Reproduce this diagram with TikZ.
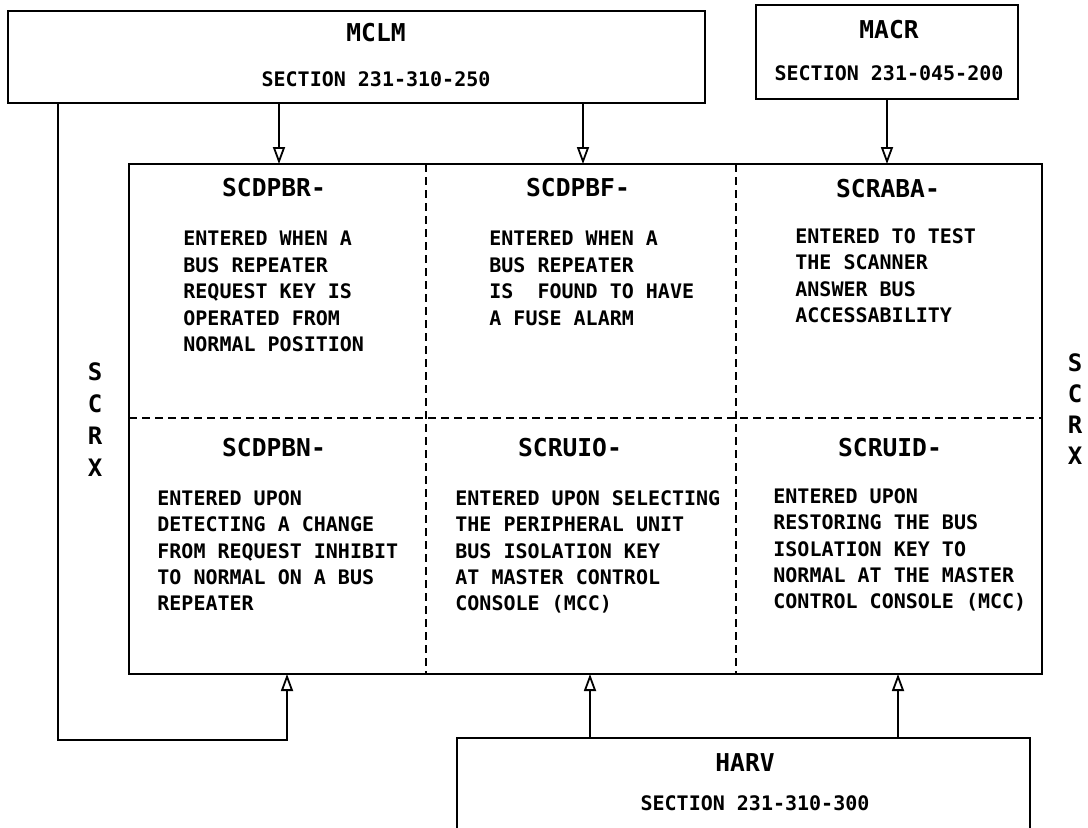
\documentclass[tikz,border=0pt]{standalone}
\usepackage{fontspec}
\setmainfont{DejaVu Sans Mono}
\usetikzlibrary{positioning,arrows.meta}

\begin{document}
\begin{tikzpicture}
[
x=0.5pt, y=-0.5pt,
box-a/.style={draw, line width=1.3pt, inner sep=0pt, outer sep=0pt},
div-a/.style={line width=0.9pt, dash pattern=on 4pt off 2.5pt},
arrow-a/.style={line width=0.8pt, -{Triangle[open, length=8.5pt, width=6pt, line width=0.9pt]}},
text-a/.style={inner sep=0pt, font=\fontsize{12.3}{14}\selectfont\bfseries},
text-b/.style={inner sep=0pt, font=\fontsize{10}{12}\selectfont\bfseries},
text-c/.style={inner sep=0pt, anchor=north west, align=left, font=\fontsize{10}{13.2}\selectfont\bfseries},
text-d/.style={inner sep=0pt, align=center, font=\fontsize{12}{16}\selectfont\bfseries}
]
\useasboundingbox (0,0) rectangle (1088,827);
\node (mclm)        [box-a, minimum width=348.5pt, minimum height=46pt] at (356.5,57)  {};
\node (macr)        [box-a, minimum width=131pt,   minimum height=47pt] at (887,52)    {};
\node (main)        [box-a, minimum width=456.5pt, minimum height=255pt] at (585.5,419) {};
\node (harv)        [box-a, minimum width=286.5pt, minimum height=51pt] at (743.5,789) {};
\node (mclm-name)   [text-a]                                  at (376,33) {MCLM};
\node (mclm-sec)    [text-b, below = 14.3pt of mclm-name]                 {SECTION 231-310-250};
\node (macr-name)   [text-a]                                  at (889,30) {MACR};
\node (macr-sec)    [text-b, below = 12.8pt of macr-name]                 {SECTION 231-045-200};
\node (harv-name)   [text-a]                                  at (745,763) {HARV};
\node (harv-sec)    [text-b, below = 11.3pt of harv-name, xshift=5pt]     {SECTION 231-310-300};
\node (cell-11)     [text-a] at (274,188) {SCDPBR-};
\node (cell-11-txt) [text-c] at (183,231) {ENTERED WHEN A\\BUS REPEATER\\REQUEST KEY IS\\OPERATED FROM\\NORMAL POSITION};
\node (cell-12)     [text-a] at (578,188) {SCDPBF-};
\node (cell-12-txt) [text-c] at (489,231) {ENTERED WHEN A\\BUS REPEATER\\IS\ \ FOUND TO HAVE\\A FUSE ALARM};
\node (cell-13)     [text-a] at (888,189) {SCRABA-};
\node (cell-13-txt) [text-c] at (795,228) {ENTERED TO TEST\\THE SCANNER\\ANSWER BUS\\ACCESSABILITY};
\node (cell-21)     [text-a] at (274,448) {SCDPBN-};
\node (cell-21-txt) [text-c] at (157,490) {ENTERED UPON\\DETECTING A CHANGE\\FROM REQUEST INHIBIT\\TO NORMAL ON A BUS\\REPEATER};
\node (cell-22)     [text-a] at (570,448) {SCRUIO-};
\node (cell-22-txt) [text-c] at (455,490) {ENTERED UPON SELECTING\\THE PERIPHERAL UNIT\\BUS ISOLATION KEY\\AT MASTER CONTROL\\CONSOLE (MCC)};
\node (cell-23)     [text-a] at (890,448) {SCRUID-};
\node (cell-23-txt) [text-c] at (773,488) {ENTERED UPON\\RESTORING THE BUS\\ISOLATION KEY TO\\NORMAL AT THE MASTER\\CONTROL CONSOLE (MCC)};
\node (scrx-l)      [text-d] at (95,420) {S\\C\\R\\X};
\node (scrx-r)      [text-d, font=\fontsize{12}{15.5}\selectfont\bfseries] at (1075,409) {S\\C\\R\\X};
\coordinate (div-1)  at (426,418);
\coordinate (div-2)  at (736,418);
\coordinate (in-1)   at (279,0);
\coordinate (in-2)   at (583,0);
\coordinate (in-4)   at (287,0);
\coordinate (in-5)   at (590,0);
\coordinate (in-6)   at (898,0);
\coordinate (loop-1) at (58,740);
\draw[div-a]   (main.north -| div-1) -- (main.south -| div-1);
\draw[div-a]   (main.north -| div-2) -- (main.south -| div-2);
\draw[div-a]   (main.west |- div-1) -- (main.east |- div-1);
\draw[arrow-a] (mclm.south -| in-1) -- (main.north -| in-1);
\draw[arrow-a] (mclm.south -| in-2) -- (main.north -| in-2);
\draw[arrow-a] (macr.south) -- (main.north -| macr.south);
\draw[arrow-a] (mclm.south -| loop-1) -- (loop-1) -| (main.south -| in-4);
\draw[arrow-a] (harv.north -| in-5) -- (main.south -| in-5);
\draw[arrow-a] (harv.north -| in-6) -- (main.south -| in-6);
\end{tikzpicture}
\end{document}
